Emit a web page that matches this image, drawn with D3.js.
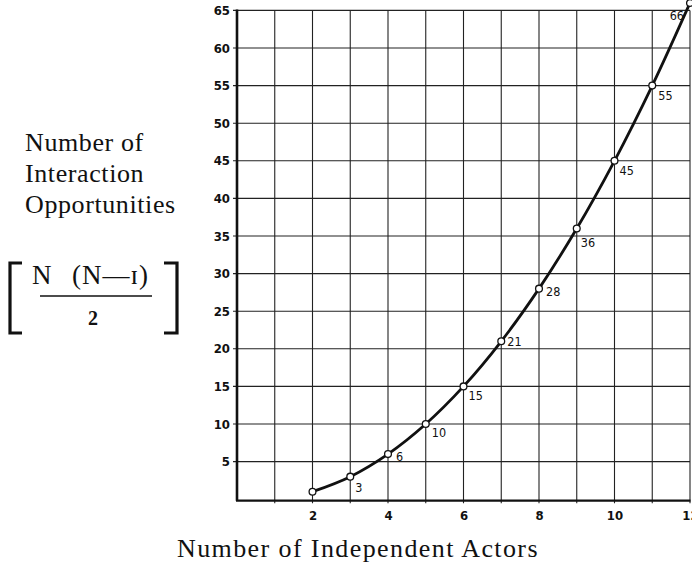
<!DOCTYPE html>
<html>
<head>
<meta charset="utf-8">
<script src="https://cdn.jsdelivr.net/npm/d3@7"></script>
<style>
  html, body { margin: 0; padding: 0; background: #fff; }
  svg { display: block; }
</style>
</head>
<body>
<svg id="chart" width="692" height="569"></svg>
<script>
// ---- data ----
const actors = [2, 3, 4, 5, 6, 7, 8, 9, 10, 11, 12];
const opportunities = [1, 3, 6, 10, 15, 21, 28, 36, 45, 55, 66];
const pointLabels = ["", "3", "6", "10", "15", "21", "28", "36", "45", "55", "66"];
const xTickLabels = [2, 4, 6, 8, 10, 12];
const yTickLabels = [5, 10, 15, 20, 25, 30, 35, 40, 45, 50, 55, 60, 65];
const xGrid = [1, 2, 3, 4, 5, 6, 7, 8, 9, 10, 11, 12];

// ---- layout (not data) ----
const labelOffsets = [[0,0],[5,15],[8,7],[6,13],[5,14],[6,5],[7,7],[4,19],[5,14],[6,14],[-6,17]];

const svg = d3.select("#chart");
const plotL = 237, plotR = 690, plotT = 10.4, plotB = 499.2;
const x = d3.scaleLinear().domain([0, 12]).range([plotL, plotR]);
const y = d3.scaleLinear().domain([0, 65]).range([plotB, plotT]);

const sansTick = "'DejaVu Sans Condensed','Liberation Sans Narrow','Liberation Sans',sans-serif";
const serif = "'Liberation Serif','DejaVu Serif',serif";

// grid lines
const g = svg.append("g");
g.selectAll("line.v").data(xGrid).enter().append("line")
  .attr("x1", d => x(d)).attr("x2", d => x(d))
  .attr("y1", y(65)).attr("y2", y(0) + 4)
  .attr("stroke", "#222").attr("stroke-width", 1.1);
g.selectAll("line.h").data(yTickLabels).enter().append("line")
  .attr("x1", x(0) - 4).attr("x2", x(12))
  .attr("y1", d => y(d)).attr("y2", d => y(d))
  .attr("stroke", "#222").attr("stroke-width", 1.1);

// axes lines (thicker)
g.append("line").attr("x1", x(0)).attr("x2", x(0)).attr("y1", y(65) - 1).attr("y2", y(0) + 1.5)
  .attr("stroke", "#111").attr("stroke-width", 2.6);
g.append("line").attr("x1", x(0) - 1).attr("x2", x(12) + 0.5).attr("y1", y(0) + 1.5).attr("y2", y(0) + 1.5)
  .attr("stroke", "#111").attr("stroke-width", 2.2);

// y tick labels
const yAxis = d3.axisLeft(y).tickValues(yTickLabels).tickSize(0).tickPadding(7);
const ya = svg.append("g").attr("transform", `translate(${x(0)},0)`).call(yAxis);
ya.select(".domain").remove();
ya.selectAll("text").attr("font-family", sansTick).attr("font-weight", "bold")
  .attr("font-size", 13).attr("fill", "#111");

// x tick labels
const xAxis = d3.axisBottom(x).tickValues(xTickLabels).tickSize(0).tickPadding(12);
const xa = svg.append("g").attr("transform", `translate(0,${y(0)})`).call(xAxis);
xa.select(".domain").remove();
xa.selectAll("text").attr("font-family", sansTick).attr("font-weight", "bold")
  .attr("font-size", 13).attr("fill", "#111");

// curve
const pts = actors.map((a, i) => ({ a, v: opportunities[i], lab: pointLabels[i], off: labelOffsets[i] }));
const line = d3.line().x(d => x(d.a)).y(d => y(d.v)).curve(d3.curveCatmullRom.alpha(0.5));
svg.append("path").datum(pts).attr("d", line)
  .attr("fill", "none").attr("stroke", "#111").attr("stroke-width", 2.8);

svg.selectAll("circle.pt").data(pts).enter().append("circle")
  .attr("cx", d => x(d.a)).attr("cy", d => y(d.v)).attr("r", 3.4)
  .attr("fill", "#fff").attr("stroke", "#111").attr("stroke-width", 1.3);

svg.selectAll("text.pl").data(pts.filter(d => d.lab)).enter().append("text")
  .attr("x", d => x(d.a) + d.off[0]).attr("y", d => y(d.v) + d.off[1])
  .attr("text-anchor", d => d.off[0] < 0 ? "end" : "start")
  .attr("font-family", sansTick).attr("font-size", 12.5).attr("fill", "#111")
  .text(d => d.lab);

// left title
const leftLines = [["Number of", 151], ["Interaction", 182], ["Opportunities", 213]];
svg.selectAll("text.lt").data(leftLines).enter().append("text")
  .attr("x", 25).attr("y", d => d[1])
  .attr("font-family", serif).attr("font-size", 26).attr("letter-spacing", 0.6)
  .attr("fill", "#111").text(d => d[0]);

// formula with brackets
const f = svg.append("g");
f.append("path").attr("d", "M22,263 H10 V333 H22").attr("fill", "none").attr("stroke", "#111").attr("stroke-width", 3.2);
f.append("path").attr("d", "M164,263 H177 V333 H164").attr("fill", "none").attr("stroke", "#111").attr("stroke-width", 3.2);
f.append("text").attr("x", 32).attr("y", 284).attr("font-family", serif).attr("font-size", 27)
  .attr("fill", "#111").text("N");
f.append("text").attr("x", 72).attr("y", 284).attr("font-family", serif).attr("font-size", 27)
  .attr("fill", "#111").attr("letter-spacing", 1).text("(N—ɪ)");
f.append("line").attr("x1", 40).attr("x2", 152).attr("y1", 296).attr("y2", 296)
  .attr("stroke", "#111").attr("stroke-width", 1.3);
f.append("text").attr("x", 93).attr("y", 325).attr("text-anchor", "middle")
  .attr("font-family", serif).attr("font-size", 20).attr("font-weight", "bold").attr("fill", "#111").text("2");

// bottom title
svg.append("text").attr("x", 177).attr("y", 557)
  .attr("font-family", serif).attr("font-size", 26).attr("letter-spacing", 1.4)
  .attr("fill", "#111").text("Number of Independent Actors");
</script>
</body>
</html>
